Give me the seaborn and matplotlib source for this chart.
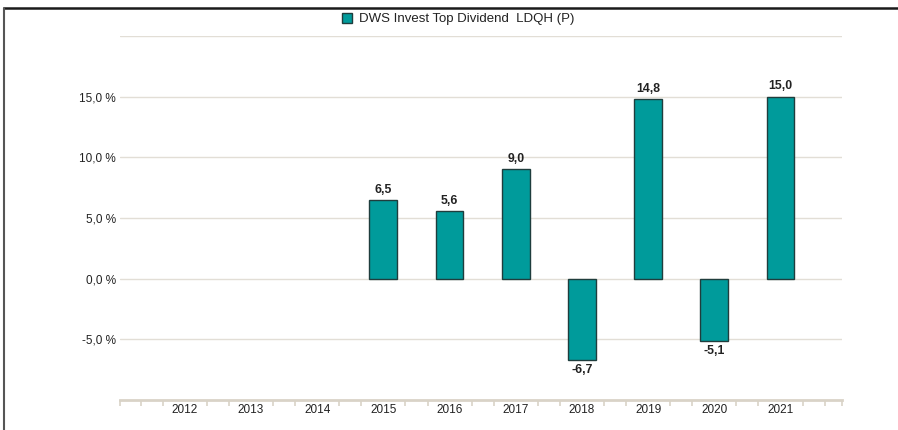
import matplotlib
matplotlib.use("Agg")
import matplotlib.pyplot as plt
import seaborn as sns
import pandas as pd
import numpy as np
from matplotlib.lines import Line2D
from matplotlib.patches import Patch

years = ["2012", "2013", "2014", "2015", "2016", "2017", "2018", "2019", "2020", "2021"]
data_years = ["2015", "2016", "2017", "2018", "2019", "2020", "2021"]
values = [6.5, 5.6, 9.0, -6.7, 14.8, -5.1, 15.0]
series_name = "DWS Invest Top Dividend  LDQH (P)"
ytick_vals = [-10, -5, 0, 5, 10, 15, 20]
ytick_labels = ["", "-5,0 %", "0,0 %", "5,0 %", "10,0 %", "15,0 %", ""]

sns.set_theme(style="white")
plt.rcParams["font.family"] = ["Liberation Sans", "DejaVu Sans"]

teal = "#009b9b"
edge = "#1f3d3d"
grid_c = "#e2ded6"
axis_c = "#d9d3c7"
text_c = "#222222"

df = pd.DataFrame({"year": data_years, "value": values})

fig = plt.figure(figsize=(8.98, 4.30), dpi=100)
ax = fig.add_axes([120 / 898, 1 - 400 / 430, (842 - 120) / 898, (400 - 36) / 430])

sns.barplot(data=df, x="year", y="value", order=years, color=teal,
            edgecolor=edge, linewidth=1.0, width=0.42, saturation=1, ax=ax, zorder=3)

ax.set_xlim(-0.98, 9.93)
ax.set_ylim(-10, 20)
ax.set_yticks(ytick_vals)
ax.set_yticklabels(ytick_labels, fontsize=8.5, color=text_c)
ax.tick_params(axis="y", length=0, pad=3)
ax.tick_params(axis="x", which="major", length=0, pad=3, labelsize=8.5, labelcolor=text_c)
ax.set_xlabel("")
ax.set_ylabel("")

for v in ytick_vals[1:]:
    ax.axhline(v, color=grid_c, lw=1.0, zorder=1)

for s in ["top", "right", "left"]:
    ax.spines[s].set_visible(False)
ax.spines["bottom"].set_color(axis_c)
ax.spines["bottom"].set_linewidth(2.0)
ax.spines["bottom"].set_zorder(4)

# minor ticks at thirds of each category
minor = np.arange(-1, 10, 1 / 3)
minor = [m for m in minor if -0.97 <= m <= 9.93 and abs(m - round(m)) > 0.01]
minor = [-0.975] + minor + [9.925]
ax.set_xticks(minor, minor=True)
ax.tick_params(axis="x", which="minor", bottom=True, length=4, width=1.2,
               color=axis_c, direction="out")

for cont in ax.containers:
    labels = []
    for b in cont:
        h = b.get_height()
        labels.append("" if np.isnan(h) else f"{h:.1f}".replace(".", ","))
    ax.bar_label(cont, labels=labels, padding=3, fontsize=8.8, fontweight="bold", color=text_c)

handle = Patch(facecolor=teal, edgecolor=edge, linewidth=1.0)
fig.legend([handle], [series_name], loc="center", bbox_to_anchor=(458 / 898, 1 - 19 / 430),
           frameon=False, fontsize=9.5, handlelength=0.8, handleheight=0.8, handletextpad=0.5,
           labelcolor=text_c)

fig.add_artist(Line2D([4 / 898, 1], [1 - 8 / 430, 1 - 8 / 430], transform=fig.transFigure,
                      color="#1a1a1a", lw=1.8))
fig.add_artist(Line2D([4 / 898, 4 / 898], [1 - 8 / 430, 0], transform=fig.transFigure,
                      color="#555555", lw=1.5))

fig.savefig("out.png", dpi=100)
